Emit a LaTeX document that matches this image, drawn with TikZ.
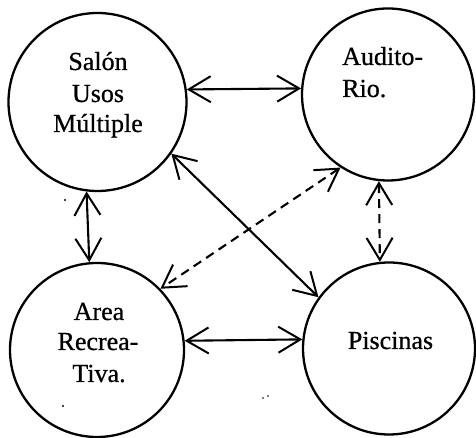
\documentclass[tikz,border=0pt]{standalone}
\usepackage{fontspec}
\setmainfont{Liberation Serif}
\newfontfamily\heavy{Liberation Serif}[FakeBold=0.7]
\usetikzlibrary{arrows.meta}
\begin{document}
\begin{tikzpicture}[x=1pt,y=1pt,
  place/.style={circle,draw,line width=2.3pt,inner sep=0pt,minimum size=#1},
  lbl/.style={inner sep=0pt,font=\heavy\fontsize{26}{31}\selectfont},
  vtip/.tip={Straight Barb[length=22pt,width=26pt,line width=2pt]},
  link/.style={line width=2.1pt,vtip-vtip},
  dlink/.style={link,dash pattern=on 9pt off 6pt}]
\useasboundingbox (0,0) rectangle (476,438);
% places
\node[place=178pt] (sal) at (97.5,336) {};
\node[place=172pt] (aud) at (388,343.5) {};
\node[place=174pt] (are) at (97,88) {};
\node[place=172pt] (pis) at (389,89.5) {};
% labels
\node[lbl,anchor=base] (sal1) at (98,368) {Salón};
\node[lbl,anchor=base] (sal2) at (98,336) {Usos};
\node[lbl,anchor=base] (sal3) at (98,306) {Múltiple};
\node[lbl,anchor=base west] (aud1) at (342,373) {Audito-};
\node[lbl,anchor=base west] (aud2) at (342,341) {Rio.};
\node[lbl,anchor=base] (are1) at (99,118) {Area};
\node[lbl,anchor=base] (are2) at (98,88) {Recrea-};
\node[lbl,anchor=base] (are3) at (99,56) {Tiva.};
\node[lbl,anchor=base] (pis1) at (390.5,89) {Piscinas};
% connectors
\draw[link] (sal.8.4) -- (aud.176.3);
\draw[link] (sal.263.9) -- (are.95.9);
\draw[link] (are.6.6) -- (pis.174.3);
\draw[dlink] (aud.264.7) -- (pis.96);
\draw[link] (sal.325.4) -- (pis.144.2);
\draw[dlink] (aud.237) -- (are.44.2);
% specks
\fill (65,238) circle (1.1);
\fill (63,32) circle (1.1);
\fill (263,40) circle (0.9);
\fill (268,42) circle (0.9);
\end{tikzpicture}
\end{document}
